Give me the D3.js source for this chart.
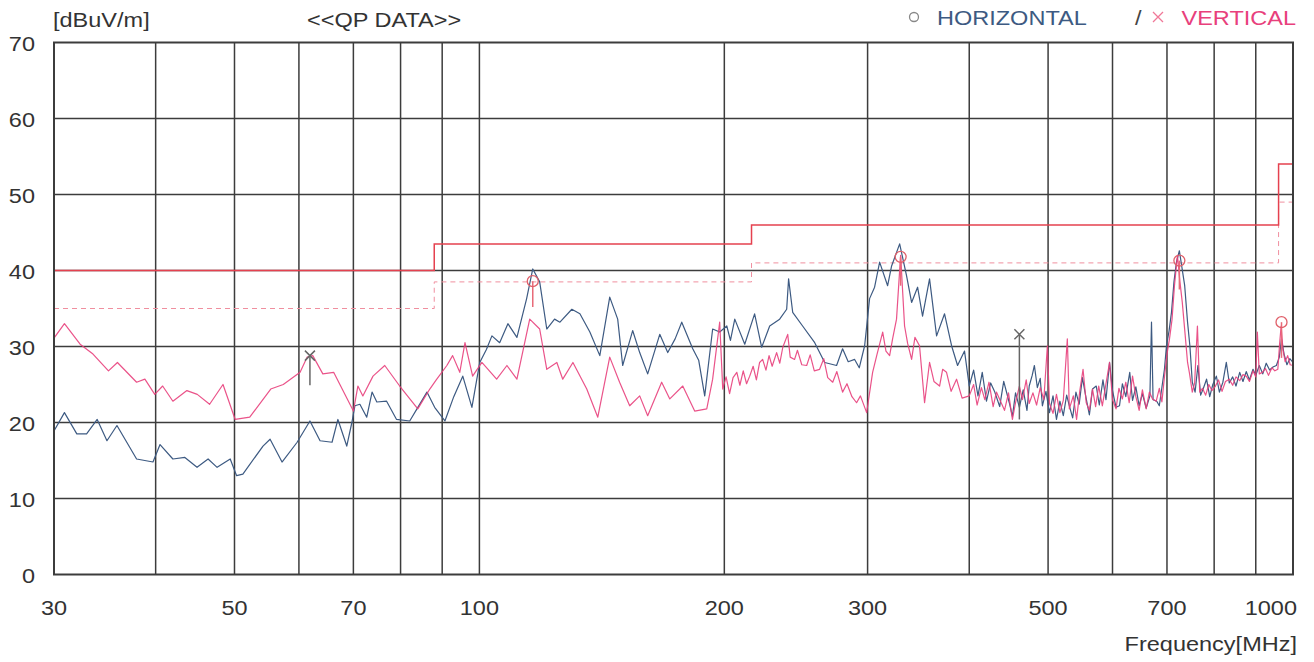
<!DOCTYPE html>
<html>
	<head>
		<meta charset="utf-8">
		<title></title>
		<script src="https://d3js.org/d3.v7.min.js"></script>
		<style>
			body { margin: 0; background: #fff; }
			text { font-family: "Liberation Sans", Arial, sans-serif; }
		</style>
	</head>
	<body>
		<div class="main_div"></div>
		<script>

			// Horizontal polarisation, [MHz, dBuV/m]
			var horizontal = [[30,18.9],[30.9,21.3],[32.0,18.5],[32.9,18.5],[33.9,20.4],[34.85,17.6],[35.85,19.6],[37.9,15.2],[39.7,14.8],[40.5,17.1],
				[42.0,15.2],[43.45,15.4],[44.97,14.1],[46.4,15.2],[47.6,14.1],[49.4,15.2],[50.3,13.0],[51.2,13.2],[54.2,16.9],[55.3,17.8],
				[57.2,14.8],[59.7,17.4],[61.9,20.2],[63.7,17.6],[65.9,17.4],[67.0,20.4],[68.7,16.9],[69.7,20.0],[70.3,22.2],[71.3,22.4],
				[72.7,20.7],[73.8,24.0],[74.8,22.7],[76.9,22.8],[79.1,20.4],[82.1,20.2],[83.8,21.8],[86.2,24.0],[88.1,22.0],[90.7,20.2],
				[93.0,23.4],[95.4,26.1],[97.9,22.0],[100.1,27.9],[102.0,29.6],[103.6,31.4],[105.9,30.5],[108.4,33.0],[111.2,31.2],[114.3,36.3],
				[116.3,40.2],[118.6,38.5],[121.0,32.3],[123.7,33.6],[125.6,33.2],[129.9,34.9],[132.9,34.3],[136.7,31.9],[140.6,28.8],[144.6,36.5],
				[147.9,33.6],[150.0,27.5],[154.3,32.1],[157.4,29.2],[161.0,26.4],[166.6,31.6],[170.4,29.2],[174.0,31.0],[177.3,33.2],[182.9,29.7],
				[186.0,28.2],[189.2,23.5],[193.5,32.3],[197.4,31.9],[201.4,32.7],[203.5,30.8],[206.0,33.6],[211.9,30.3],[217.9,34.3],[222.3,29.9],
				[227.4,32.7],[233.9,33.6],[238.6,34.9],[239.9,38.9],[242.7,34.5],[249.6,32.7],[258.3,30.5],[265.7,27.9],[274.8,27.5],[279.5,29.7],
				[284.0,28.0],[289.2,28.3],[293.0,27.2],[297.5,30.1],[301.7,36.3],[306.0,37.8],[310.4,41.1],[317.5,38.0],[321.1,40.6],[328.5,43.5],
				[335.0,39.3],[339.8,35.8],[345.6,37.8],[350.5,34.0],[357.5,38.9],[364.7,31.4],[373.0,34.3],[380.5,30.1],[387.0,27.5],[394.7,29.4],
				[400,24.8],[405,26.9],[410,23.5],[415,26.6],[420,22.8],[425,25.2],[430,24.0],[436,22.1],[441,25.4],[448,22.6],
				[452,20.8],[456,23.9],[461,22.0],[466,24.3],[471,21.6],[474,24.8],[478,26.2],[481,27.5],[485,24.6],[489,25.8],
				[492,22.2],[497,24.1],[502,21.3],[507,23.5],[512,20.4],[517,22.8],[522,20.9],[527,23.6],[531,22.2],[536,20.6],
				[541,24.0],[546,22.4],[551,25.9],[557,23.1],[562,21.0],[567,24.4],[573,24.8],[578,22.3],[584,25.6],[589,23.0],
				[595,27.9],[600,24.2],[606,22.0],[612,22.2],[617,25.1],[623,23.4],[630,26.6],[635,22.9],[641,24.7],[647,22.2],
				[653,23.8],[660,21.9],[667,23.5],[670,33.2],[673,23.0],[680,22.8],[685,22.2],[690,24.6],[695,27.0],[699,30.1],
				[704,32.0],[709,34.5],[714,38.5],[719,41.1],[725,42.6],[730,40.5],[736,38.0],[742,33.2],[747,30.0],[752,25.3],
				[758,24.0],[764,27.5],[770,23.6],[776,24.5],[783,25.7],[790,23.4],[797,25.0],[805,26.1],[812,24.0],[820,25.3],
				[828,27.9],[835,25.2],[843,26.0],[851,24.8],[860,26.6],[868,25.4],[876,26.7],[884,25.6],[893,27.0],[900,26.2],
				[909,27.5],[918,26.4],[927,27.8],[936,26.9],[945,27.3],[954,27.5],[962,28.6],[968,31.0],[975,29.0],[983,27.6],
				[991,28.4],[1000,27.9]];

			// Vertical polarisation, [MHz, dBuV/m]
			var vertical = [[30,31.1],[30.9,33.0],[32.3,30.3],[33.5,29.0],[35.0,26.8],[35.9,27.9],[37.9,25.3],[38.8,25.7],[39.9,23.7],[40.8,24.8],
				[42.0,22.8],[43.7,24.2],[45.0,23.7],[46.6,22.4],[48.4,25.0],[50.1,20.4],[52.2,20.7],[55.4,24.4],[57.4,25.0],[60.2,26.6],
				[61.4,28.6],[62.4,28.8],[64.2,26.4],[66.2,26.6],[70.0,21.5],[70.9,24.8],[71.9,23.5],[74.0,26.1],[76.5,27.5],[79.8,24.8],
				[84.0,21.8],[86.9,24.4],[88.5,25.6],[91.2,27.5],[92.7,28.8],[94.6,26.6],[96.0,30.5],[98.1,26.1],[100.7,27.9],[105.0,25.7],
				[108.1,27.5],[111.2,25.7],[115.3,33.6],[118.6,32.3],[121.0,27.0],[124.5,27.9],[126.6,25.7],[130.3,27.9],[135.5,24.4],[139.8,20.7],
				[144.6,28.6],[148.7,25.3],[153.0,22.2],[157.4,23.5],[161.0,20.9],[167.5,25.3],[171.4,23.1],[177.8,24.8],[183.9,21.5],[190.3,21.8],
				[193.5,25.7],[197.4,33.2],[199.1,24.4],[201,26.0],[203,23.8],[205,25.9],[207.2,26.6],[209,24.9],[211,26.8],[213,25.1],
				[214.9,26.1],[217,27.4],[219,25.6],[221,27.9],[222.9,28.3],[225,26.9],[227,28.8],[229,27.4],[231.9,29.2],[234,27.8],
				[236,29.9],[239.3,31.6],[241,28.6],[244,28.3],[246,29.5],[249,27.6],[252.5,27.5],[255,28.9],[258,26.8],[261.9,27.0],
				[265,28.4],[268,25.9],[271.8,25.3],[275,26.7],[279.5,24.0],[283,25.1],[287,23.4],[290.8,22.6],[294,23.5],[299.2,21.3],
				[304.3,26.6],[308,28.9],[313.1,31.9],[316,29.4],[319.3,28.8],[322,31.0],[325.6,33.6],[329.4,42.0],[333.1,32.7],[336,30.4],
				[339.8,28.3],[343,31.2],[347.5,30.1],[352.5,22.6],[357.5,27.9],[362,25.4],[367.8,24.8],[371,27.0],[375.1,26.6],[380,24.1],
				[385.9,25.7],[392,23.2],[400,23.5],[405,25.0],[409,22.3],[414,24.6],[418,23.0],[423,25.3],[428,22.1],[432,24.0],
				[437,22.8],[442,21.6],[447,23.9],[452,20.4],[456,22.6],[461,24.8],[465,23.0],[470,25.6],[474,22.5],[479,23.9],
				[484,22.3],[489,24.6],[494,23.0],[499,30.1],[502,22.5],[507,21.2],[512,23.7],[517,21.3],[522,22.9],[528,31.0],
				[531,21.8],[537,23.5],[542,20.4],[547,24.2],[552,27.0],[557,22.6],[562,21.6],[567,24.4],[572,22.1],[577,24.8],
				[583,22.2],[589,25.1],[595,27.9],[600,23.0],[606,21.8],[611,24.5],[617,23.1],[623,25.3],[629,22.6],[635,26.1],
				[641,23.4],[647,21.6],[653,24.3],[660,21.8],[666,24.0],[672,23.1],[679,22.8],[685,24.5],[690,22.7],[695,26.0],
				[700,29.0],[705,31.0],[710,33.5],[715,38.0],[721,42.0],[726,38.6],[731,35.8],[737,31.5],[742,27.9],[746,26.5],
				[752,24.0],[757,25.2],[763,32.7],[768,24.0],[774,24.5],[781,23.6],[788,25.0],[795,24.2],[803,24.8],[810,25.6],
				[818,24.1],[826,25.4],[835,25.7],[843,24.9],[851,26.0],[860,25.5],[868,26.3],[876,26.1],[884,25.4],[893,26.8],
				[900,26.0],[904,31.9],[909,26.4],[917,26.6],[925,27.1],[933,26.2],[942,27.2],[950,26.8],[958,27.0],[963,30.5],
				[967,32.7],[972,29.6],[978,28.0],[985,28.8],[992,27.6],[1000,27.5]];

			// Limit line (FCC class B, 3 m) and 5 dB margin line
			var limitSteps = [[30,40],[88,43.5],[216,46],[960,54],[1000,54]];
			var marginSteps = [[30,35],[88,38.5],[216,41],[960,49],[1000,49]];

			// QP readings: freq, level, bottom of the reading stem, symbol
			var qpFreq = [61.9, 116.3, 329.4, 461, 725, 968];
			var qpLevel = [28.8, 38.6, 41.8, 31.6, 41.3, 33.2];
			var qpBase = [24.9, 35.2, 38.0, 20.4, 37.5, 28.5];
			var qpType = ["x", "o", "o", "x", "o", "o"];

			var xTicks = [30, 50, 70, 100, 200, 300, 500, 700, 1000];
			var xGrid = [40, 50, 60, 70, 80, 90, 100, 200, 300, 400, 500, 600, 700, 800, 900];
			var yTicks = [0, 10, 20, 30, 40, 50, 60, 70];

			var W = 1314, H = 662;
			var pLeft = 54, pRight = 1293, pTop = 42.5, pBottom = 574.5;
			var blue = "#3d5a82", pink = "#e8407c", red = "#e5414f", grid = "#3c3c3c";
			var stretch = 1.12;

			var svg = d3.select(".main_div").append("svg").attr("width", W).attr("height", H);

			var x = d3.scaleLog().domain([30, 1000]).range([pLeft, pRight]);
			var y = d3.scaleLinear().domain([0, 70]).range([pBottom, pTop]);

			svg.append("clipPath").attr("id", "plot")
				.append("rect").attr("x", pLeft).attr("y", pTop).attr("width", pRight - pLeft).attr("height", pBottom - pTop);

			// texts are a bit wider than Arial, so stretch them
			function label(px, py, str, anchor, color) {
				return svg.append("text")
					.attr("transform", "translate(" + px + "," + py + ") scale(" + stretch + ",1)")
					.attr("text-anchor", anchor).attr("font-size", 21).attr("fill", color).text(str);
			}

			// Grid
			svg.append("g").selectAll("line").data(xGrid).enter().append("line")
				.attr("x1", function(d){return x(d);}).attr("x2", function(d){return x(d);})
				.attr("y1", pTop).attr("y2", pBottom)
				.attr("stroke", grid).attr("stroke-width", 1.5);
			svg.append("g").selectAll("line").data(yTicks.slice(1, -1)).enter().append("line")
				.attr("x1", pLeft).attr("x2", pRight)
				.attr("y1", function(d){return y(d);}).attr("y2", function(d){return y(d);})
				.attr("stroke", grid).attr("stroke-width", 1.5);

			// Limits
			var step = d3.line().curve(d3.curveStepAfter)
				.x(function(d){return x(d[0]);}).y(function(d){return y(d[1]);});
			svg.append("path").attr("d", step(marginSteps)).attr("fill", "none")
				.attr("stroke", "#f08f9f").attr("stroke-width", 1).attr("stroke-dasharray", "5,4");
			svg.append("path").attr("d", step(limitSteps)).attr("fill", "none")
				.attr("stroke", red).attr("stroke-width", 1.5);

			// Traces
			var line = d3.line().x(function(d){return x(d[0]);}).y(function(d){return y(d[1]);});
			var traces = svg.append("g").attr("clip-path", "url(#plot)");
			traces.append("path").attr("d", line(horizontal)).attr("fill", "none")
				.attr("stroke", blue).attr("stroke-width", 1.2).attr("stroke-linejoin", "round");
			traces.append("path").attr("d", line(vertical)).attr("fill", "none")
				.attr("stroke", pink).attr("stroke-width", 1.2).attr("stroke-linejoin", "round").attr("opacity", 0.9);

			// QP markers
			var qp = d3.range(qpFreq.length);
			var mk = svg.append("g");
			mk.selectAll("line.stem").data(qp).enter().append("line").attr("class", "stem")
				.attr("x1", function(i){return x(qpFreq[i]);}).attr("x2", function(i){return x(qpFreq[i]);})
				.attr("y1", function(i){return y(qpLevel[i]);}).attr("y2", function(i){return y(qpBase[i]);})
				.attr("stroke", function(i){return qpType[i] == "x" ? "#666" : "#e86a78";}).attr("stroke-width", 1.5);
			mk.selectAll("circle").data(qp.filter(function(i){return qpType[i] == "o";})).enter().append("circle")
				.attr("cx", function(i){return x(qpFreq[i]);}).attr("cy", function(i){return y(qpLevel[i]);})
				.attr("r", 5.5).attr("fill", "none").attr("stroke", "#e0606a").attr("stroke-width", 1.3);
			mk.selectAll("path.cross").data(qp.filter(function(i){return qpType[i] == "x";})).enter().append("path").attr("class", "cross")
				.attr("d", function(i){
					var cx = x(qpFreq[i]), cy = y(qpLevel[i]), s = 5;
					return "M" + (cx-s) + "," + (cy-s) + "L" + (cx+s) + "," + (cy+s) + "M" + (cx-s) + "," + (cy+s) + "L" + (cx+s) + "," + (cy-s);
				})
				.attr("stroke", "#666").attr("stroke-width", 1.5);

			// Frame
			svg.append("rect").attr("x", pLeft).attr("y", pTop).attr("width", pRight - pLeft).attr("height", pBottom - pTop)
				.attr("fill", "none").attr("stroke", grid).attr("stroke-width", 2);

			// Axis labels (the last one is pulled inside the right edge)
			xTicks.forEach(function(d, i){
				if (i == xTicks.length - 1) label(1297, 615, d, "end", "#333");
				else label(x(d), 615, d, "middle", "#333");
			});
			yTicks.forEach(function(d){ label(35, y(d) + 8, d, "end", "#333"); });
			label(1297, 651, "Frequency[MHz]", "end", "#333");
			label(53, 27, "[dBuV/m]", "start", "#333");
			label(307, 27, "<<QP DATA>>", "start", "#333");

			// Legend
			svg.append("circle").attr("cx", 914).attr("cy", 17).attr("r", 4.5)
				.attr("fill", "none").attr("stroke", "#888").attr("stroke-width", 1.3);
			label(937, 25, "HORIZONTAL", "start", blue);
			label(1135, 25, "/", "start", "#444");
			svg.append("path").attr("d", "M1153,12L1163,22M1153,22L1163,12")
				.attr("stroke", "#f07898").attr("stroke-width", 1.3);
			label(1296, 25, "VERTICAL", "end", pink);

		</script>
	</body>
</html>
